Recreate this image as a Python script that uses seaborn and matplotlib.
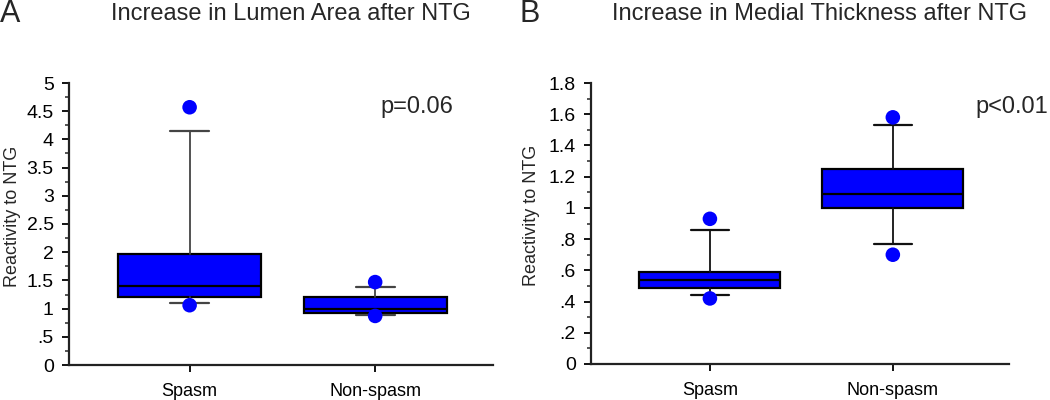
import matplotlib

matplotlib.use("Agg")
import matplotlib.pyplot as plt
import numpy as np
import seaborn as sns
from matplotlib.ticker import FixedLocator, MultipleLocator


GROUPS = ["Spasm", "Non-spasm"]

# Panel A: increase in lumen area after NTG
LUMEN_Q1 = [1.20, 0.92]
LUMEN_MED = [1.40, 1.00]
LUMEN_Q3 = [1.97, 1.20]
LUMEN_WHISLO = [1.10, 0.88]
LUMEN_WHISHI = [4.15, 1.38]
LUMEN_FLIERS = [[4.57, 1.06], [1.47, 0.87]]
LUMEN_TICKS = [0, 0.5, 1, 1.5, 2, 2.5, 3, 3.5, 4, 4.5, 5]
LUMEN_TICKLABELS = ["0", ".5", "1", "1.5", "2", "2.5", "3", "3.5", "4", "4.5", "5"]

# Panel B: increase in medial thickness after NTG
MEDIAL_Q1 = [0.49, 1.00]
MEDIAL_MED = [0.54, 1.09]
MEDIAL_Q3 = [0.59, 1.25]
MEDIAL_WHISLO = [0.44, 0.77]
MEDIAL_WHISHI = [0.86, 1.53]
MEDIAL_FLIERS = [[0.93, 0.42], [1.58, 0.70]]
MEDIAL_TICKS = [0, 0.2, 0.4, 0.6, 0.8, 1.0, 1.2, 1.4, 1.6, 1.8]
MEDIAL_TICKLABELS = ["0", ".2", ".4", ".6", ".8", "1", "1.2", "1.4", "1.6", "1.8"]

BOX_COLOR = "#0000ff"
FONT = "Liberation Sans"


def draw_panel(ax, q1, med, q3, lo, hi, fliers, ticks, ticklabels, minor_step,
               whisker_color, label_x, pval, pval_x):
    stats = []
    for i, name in enumerate(GROUPS):
        stats.append(
            {
                "label": name,
                "q1": q1[i],
                "med": med[i],
                "q3": q3[i],
                "whislo": lo[i],
                "whishi": hi[i],
                "fliers": [],
            }
        )
    positions = np.arange(len(GROUPS))
    ax.bxp(
        stats,
        positions=positions,
        widths=0.77,
        capwidths=0.21,
        patch_artist=True,
        showfliers=False,
        boxprops=dict(facecolor=BOX_COLOR, edgecolor="black", linewidth=1.6),
        medianprops=dict(color="black", linewidth=1.6),
        whiskerprops=dict(color=whisker_color, linewidth=1.3),
        capprops=dict(color=whisker_color, linewidth=1.6),
    )

    xs = [pos for pos, pts in zip(positions, fliers) for _ in pts]
    ys = [v for pts in fliers for v in pts]
    sns.scatterplot(x=xs, y=ys, ax=ax, color=BOX_COLOR, s=110, edgecolor="none", zorder=5)

    ax.set_xlim(-0.65, 1.635)
    ax.set_ylim(0, ticks[-1])
    ax.yaxis.set_major_locator(FixedLocator(ticks))
    ax.set_yticklabels(ticklabels, fontsize=14, family=FONT)
    ax.yaxis.set_minor_locator(MultipleLocator(minor_step))
    ax.set_xticks(positions)
    ax.set_xticklabels(GROUPS, fontsize=13, family=FONT)
    ax.tick_params(axis="y", which="major", length=5, width=1.3, direction="out", pad=6, colors="black")
    ax.tick_params(axis="y", which="minor", length=3, width=1.1, direction="out")
    ax.tick_params(axis="x", length=5, width=1.3, direction="out", pad=8, colors="black")
    ax.set_ylabel("Reactivity to NTG", fontsize=13, family=FONT)
    ax.yaxis.set_label_coords(label_x, 0.528)
    ax.set_xlabel("")
    for side in ["left", "bottom"]:
        ax.spines[side].set_linewidth(1.6)
        ax.spines[side].set_color("#222222")
    sns.despine(ax=ax)
    ax.text(pval_x, 0.915, pval, transform=ax.transAxes, ha="left", va="center", fontsize=17, family=FONT)


sns.set_style("ticks")
plt.rcParams["font.family"] = [FONT, "DejaVu Sans"]

fig = plt.figure(figsize=(10.5, 4.0), dpi=100)
ax_a = fig.add_axes([69 / 1050, 35 / 400, 424 / 1050, 282 / 400])
ax_b = fig.add_axes([591 / 1050, 36 / 400, 418 / 1050, 281 / 400])

draw_panel(ax_a, LUMEN_Q1, LUMEN_MED, LUMEN_Q3, LUMEN_WHISLO, LUMEN_WHISHI,
           LUMEN_FLIERS, LUMEN_TICKS, LUMEN_TICKLABELS, 0.25, "#444444", -0.113, "p=0.06", 0.735)
draw_panel(ax_b, MEDIAL_Q1, MEDIAL_MED, MEDIAL_Q3, MEDIAL_WHISLO, MEDIAL_WHISHI,
           MEDIAL_FLIERS, MEDIAL_TICKS, MEDIAL_TICKLABELS, 0.1, "#111111", -0.122, "p<0.01", 0.919)

fig.text(0 / 1050, 1 - 14 / 400, "A", fontsize=22, family=FONT, va="center", ha="left")
fig.text(291 / 1050, 1 - 14 / 400, "Increase in Lumen Area after NTG", fontsize=17, family=FONT, va="center", ha="center")
fig.text(520 / 1050, 1 - 14 / 400, "B", fontsize=22, family=FONT, va="center", ha="left")
fig.text(820 / 1050, 1 - 14 / 400, "Increase in Medial Thickness after NTG", fontsize=17, family=FONT, va="center", ha="center")

fig.savefig("out.png", dpi=100)
plt.close(fig)
